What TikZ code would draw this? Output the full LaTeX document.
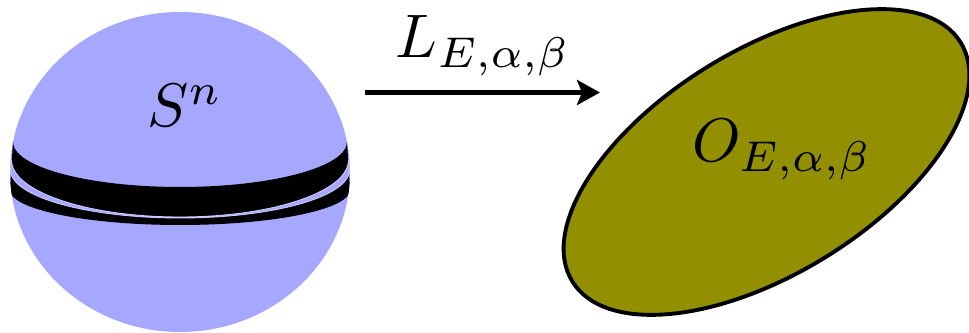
\documentclass[tikz,border=0pt]{standalone}
\usepackage{amsmath}
\usetikzlibrary{arrows.meta}
\definecolor{spherefill}{RGB}{166,168,255}
\definecolor{orbitfill}{RGB}{146,143,0}
\tikzset{
    bigmath/.style={scale=3.5, inner sep=0pt, anchor=base},
    maparrow/.style={line width=2.6pt, -{Stealth[length=0.46cm,width=0.5cm,inset=0.1cm]}},
    orbit/.style={fill=orbitfill, draw=black, line width=2.2pt}
}

\begin{document}
\begin{tikzpicture}
        \useasboundingbox (0,0) rectangle (19.38,6.64);
        % Sphere
        \fill[spherefill] (3.6,3.2) ellipse [x radius=3.4, y radius=3.2];
        % Band round the equator
        \begin{scope}
            \clip (3.6,3.2) ellipse [x radius=3.4, y radius=3.2];
            \fill[black] (0.26,3.80) arc [start angle=180, end angle=360, x radius=3.34, y radius=0.9] -- (7.0,2.84) arc [start angle=0, end angle=-180, x radius=3.4, y radius=0.7] -- cycle;
            \filldraw[fill=spherefill, draw=spherefill!60!white, line width=0.5pt] (0.23,3.44) arc [start angle=180, end angle=360, x radius=3.37, y radius=1.14] -- (6.99,3.24) arc [start angle=0, end angle=-180, x radius=3.39, y radius=0.96] -- cycle;
        \end{scope}
        \node[bigmath] (sphere) at (3.70,4.10) {$S^n$};
        % The map
        \coordinate (mapstart) at (7.30,4.79);
        \coordinate (mapend) at (12.0,4.79);
        \draw[maparrow] (mapstart) -- (mapend);
        \node[bigmath] (maplabel) at (9.66,5.48) {$L_{E,\alpha,\beta}$};
        % Image of the sphere
        \draw[orbit, shift={(15.33,3.40)}, rotate=31.6] (0,0) ellipse [x radius=4.56, y radius=2.24];
        \node[bigmath] (orbitlabel) at (15.64,3.40) {$O_{E,\alpha,\beta}$};
    \end{tikzpicture}
\end{document}
